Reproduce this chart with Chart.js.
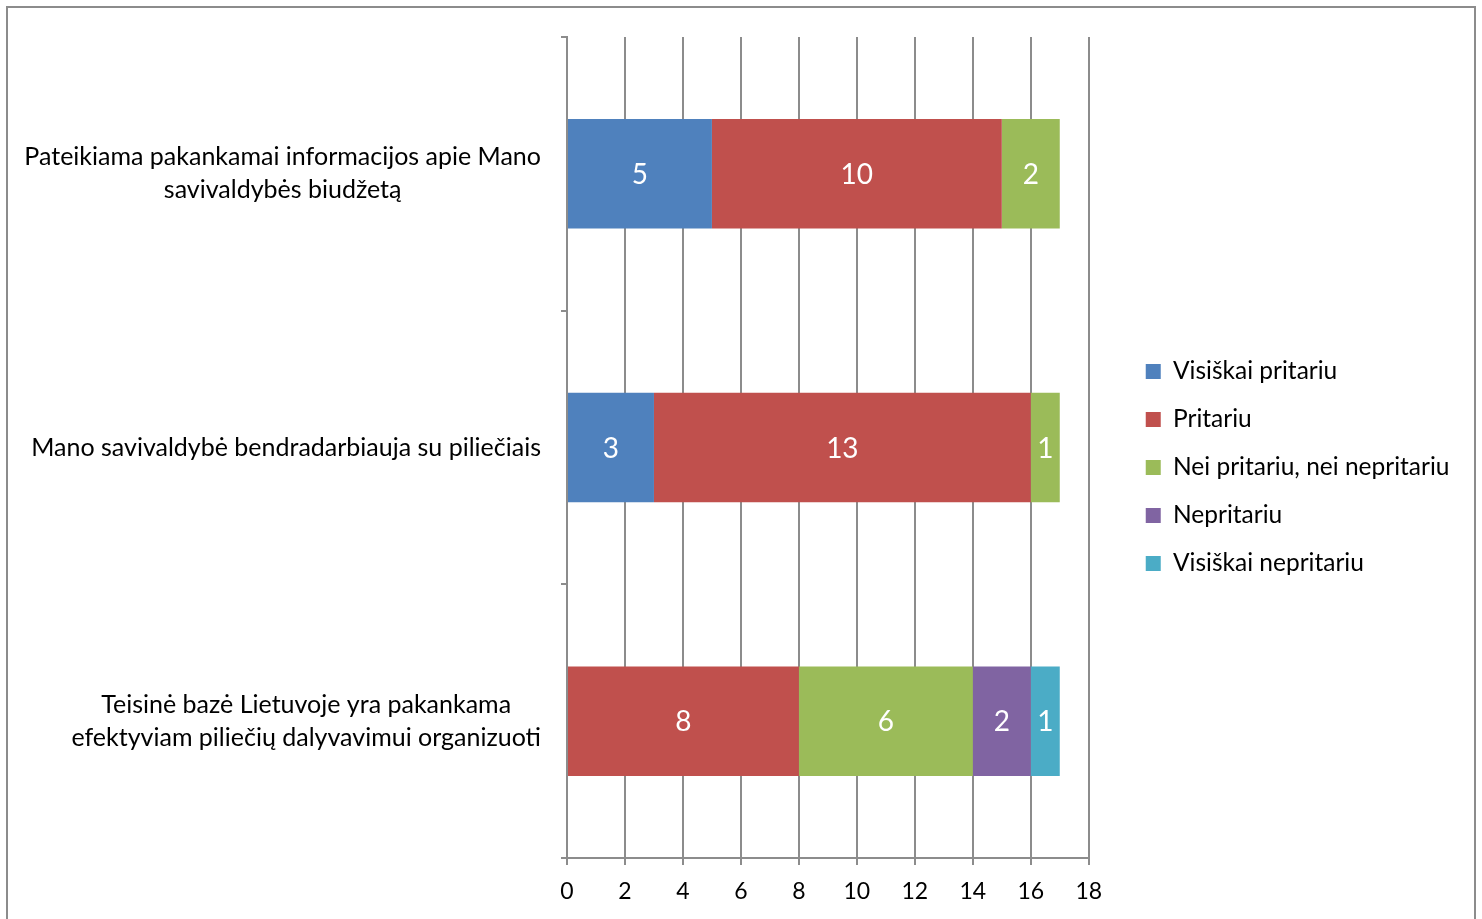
<!DOCTYPE html>
<html>
<head>
<meta charset="utf-8">
<script src="https://cdn.jsdelivr.net/npm/chart.js@4.4.1/dist/chart.umd.min.js"></script>
<style>
html,body{margin:0;padding:0;background:#fff;overflow:hidden;}
#frame{position:absolute;left:6px;top:6px;width:1470px;height:940px;border:2px solid #8c8c8c;box-sizing:border-box;}
#chart{position:absolute;left:0;top:0;}
</style>
</head>
<body>
<div id="frame"></div>
<canvas id="chart" width="1482" height="919"></canvas>
<script>
// categories (y axis), one array of lines per label
const categories=[
  ["Pateikiama pakankamai informacijos apie Mano","savivaldybės biudžetą"],
  ["Mano savivaldybė bendradarbiauja su piliečiais"],
  ["Teisinė bazė Lietuvoje yra pakankama","efektyviam piliečių dalyvavimui organizuoti"]
];
const seriesNames=["Visiškai pritariu","Pritariu","Nei pritariu, nei nepritariu","Nepritariu","Visiškai nepritariu"];
const visiskaiPritariu=[5,3,0];
const pritariu=[10,13,8];
const neiPritariu=[2,1,6];
const nepritariu=[0,0,2];
const visiskaiNepritariu=[0,0,1];
const xMin=0, xMax=18, xStep=2;

const colors=["#4f81bd","#c0504d","#9bbb59","#8064a2","#4bacc6"];
const gridColor="#8c8c8c";

Chart.defaults.font.family="Lato";
Chart.defaults.color="#000";

// y labels: lines centered on each other, block right aligned next to the axis
const yLabelPlugin={
  id:"yLabels",
  afterDraw(chart){
    const ctx=chart.ctx, y=chart.scales.y;
    ctx.save();
    ctx.font="25px Lato";
    ctx.fillStyle="#000";
    ctx.textAlign="center";
    ctx.textBaseline="middle";
    categories.forEach((lines,i)=>{
      const cy=y.getPixelForValue(i);
      const w=Math.max(...lines.map(l=>ctx.measureText(l).width));
      const cx=y.right-26-w/2;
      lines.forEach((l,j)=>{
        ctx.fillText(l,cx,cy+(j-(lines.length-1)/2)*33);
      });
    });
    ctx.restore();
  }
};

// value labels inside the bars
const valuePlugin={
  id:"values",
  afterDatasetsDraw(chart){
    const ctx=chart.ctx;
    ctx.save();
    ctx.font="28px Lato";
    ctx.fillStyle="#fff";
    ctx.textAlign="center";
    ctx.textBaseline="middle";
    chart.data.datasets.forEach((ds,di)=>{
      chart.getDatasetMeta(di).data.forEach((bar,i)=>{
        const v=ds.data[i];
        if(!v) return;
        const p=bar.getProps(["x","y","base"],true);
        ctx.fillText(String(v),(p.x+p.base)/2,p.y+1);
      });
    });
    ctx.restore();
  }
};

const seriesData=[visiskaiPritariu,pritariu,neiPritariu,nepritariu,visiskaiNepritariu];

new Chart(document.getElementById("chart"),{
  type:"bar",
  data:{
    labels:categories.map(c=>c.join(" ")),
    datasets:seriesNames.map((name,i)=>({
      label:name,
      data:seriesData[i],
      backgroundColor:colors[i],
      borderWidth:0,
      barPercentage:0.4,
      categoryPercentage:1
    }))
  },
  options:{
    indexAxis:"y",
    responsive:false,
    animation:false,
    devicePixelRatio:1,
    layout:{padding:{top:37,bottom:0,left:0,right:22.5}},
    plugins:{
      tooltip:{enabled:false},
      legend:{
        position:"right",
        fullSize:false,
        maxWidth:420,
        title:{display:true,text:"",font:{size:10},padding:{top:14,bottom:14}},
        labels:{
          boxWidth:15,
          boxHeight:15,
          padding:23.5,
          font:{size:24.5},
          color:"#000"
        }
      }
    },
    scales:{
      x:{
        stacked:true,
        min:xMin,
        max:xMax,
        ticks:{stepSize:xStep,font:{size:23},padding:13.2,color:"#000"},
        grid:{color:gridColor,lineWidth:2,tickLength:7},
        border:{display:true,color:gridColor,width:2}
      },
      y:{
        stacked:true,
        ticks:{display:false},
        grid:{drawOnChartArea:false,color:gridColor,lineWidth:2,tickLength:6},
        border:{display:true,color:gridColor,width:2},
        afterFit(s){s.width=567;}
      },
      gap:{
        type:"linear",
        position:"right",
        display:true,
        ticks:{display:false},
        grid:{display:false},
        border:{display:false},
        afterFit(s){s.width=33.5;}
      }
    }
  },
  plugins:[yLabelPlugin,valuePlugin]
});
</script>
</body>
</html>
